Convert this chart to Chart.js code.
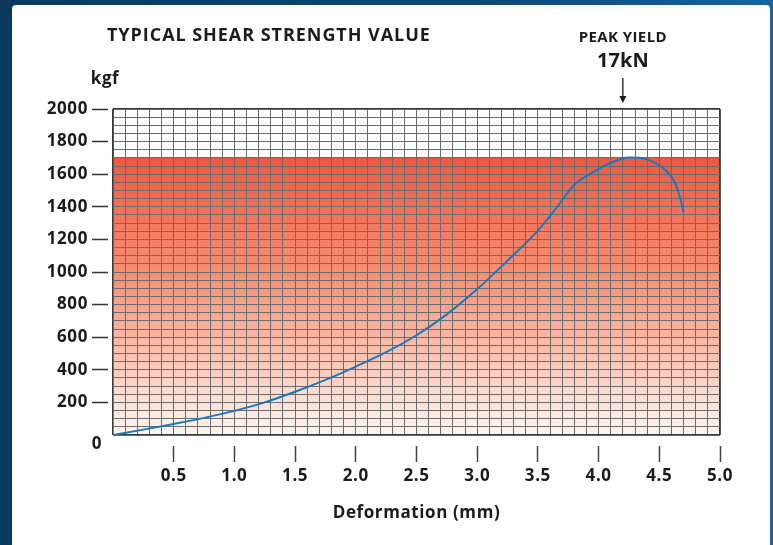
<!DOCTYPE html>
<html>
<head>
<meta charset="utf-8">
<script src="https://cdn.jsdelivr.net/npm/chart.js@4.4.1/dist/chart.umd.min.js"></script>
<style>
  html, body { margin: 0; padding: 0; }
  body {
    width: 773px; height: 545px; overflow: hidden;
    background: linear-gradient(90deg, #0b3a5e 0%, #0e4672 60%, #1564a0 100%);
    position: relative;
  }
  #panel {
    position: absolute; left: 12px; top: 5px; width: 758px; height: 540px;
    background: #fff; border-radius: 4px 4px 0 0; overflow: hidden;
  }
</style>
</head>
<body>
<div id="panel"><canvas id="shearChart" width="758" height="540"></canvas></div>
<script>
// valores (deformação em mm, força em kgf)
const deformation = [0, 0.25, 0.5, 0.75, 1.0, 1.25, 1.5, 1.75, 2.0, 2.25, 2.5, 2.75, 3.0, 3.25, 3.5,
                     3.65, 3.8, 3.95, 4.1, 4.25, 4.35, 4.45, 4.55, 4.62, 4.67, 4.7];
const shearForce = [0, 33, 68, 105, 148, 200, 265, 338, 420, 508, 612, 740, 895, 1070, 1254,
                    1390, 1535, 1610, 1670, 1703, 1700, 1675, 1625, 1560, 1460, 1366];

// faixa vermelha (zona de trabalho) e limites dos eixos
const bandTop = 1700;
const bandX = [0, 5];
const xTickLabels = [0.5, 1.0, 1.5, 2.0, 2.5, 3.0, 3.5, 4.0, 4.5, 5.0];
const yTickLabels = [200, 400, 600, 800, 1000, 1200, 1400, 1600, 1800, 2000];

// textos
const chartTitle = 'TYPICAL SHEAR STRENGTH VALUE';
const yUnit = 'kgf';
const xTitle = 'Deformation (mm)';
const peakLabel = 'PEAK YIELD';
const peakValue = '17kN';
const peakAt = 4.2;

const FONT = '"Open Sans", Lato, sans-serif';
const TEXT = '#1b1b1b';
const GRID = '#6c6c6c';
const EDGE = '#3a3a3a';

const curvePoints = deformation.map((x, i) => ({ x: x, y: shearForce[i] }));
const bandPoints = bandX.map(x => ({ x: x, y: bandTop }));

// espaçamento de letras um pouco maior, como no original
const spacing = {
    id: 'spacing',
    beforeDraw(chart) { chart.ctx.letterSpacing = '0.6px'; }
};

// redesenha a grade por cima da faixa, mas por baixo da curva
const gridOverBand = {
    id: 'gridOverBand',
    afterDatasetDraw(chart, args) {
        if (args.index !== 1) return;
        chart.scales.x.drawGrid(chart.chartArea);
        chart.scales.y.drawGrid(chart.chartArea);
    }
};

// textos soltos: título, unidade, pico e o "0"
const annotations = {
    id: 'annotations',
    afterDraw(chart) {
        const ctx = chart.ctx;
        const area = chart.chartArea;
        const xs = chart.scales.x;
        const ys = chart.scales.y;
        ctx.save();
        ctx.fillStyle = TEXT;
        ctx.textBaseline = 'middle';

        ctx.font = 'bold 18px ' + FONT;
        ctx.letterSpacing = '0.95px';
        ctx.textAlign = 'left';
        ctx.fillText(chartTitle, 95, 31);

        ctx.font = 'bold 17px ' + FONT;
        ctx.letterSpacing = '0.6px';
        ctx.textAlign = 'center';
        ctx.fillText(yUnit, 93, 74);
        ctx.fillText('0', 85, ys.getPixelForValue(0) + 9);

        const px = xs.getPixelForValue(peakAt);
        ctx.font = 'bold 15px ' + FONT;
        ctx.letterSpacing = '0.4px';
        ctx.fillText(peakLabel, px, 33);
        ctx.font = 'bold 20px ' + FONT;
        ctx.letterSpacing = '0px';
        ctx.fillText(peakValue, px, 56);

        // seta
        ctx.strokeStyle = TEXT;
        ctx.lineWidth = 1.3;
        ctx.beginPath();
        ctx.moveTo(px, 73);
        ctx.lineTo(px, area.top - 10);
        ctx.stroke();
        ctx.beginPath();
        ctx.moveTo(px - 3.5, area.top - 13);
        ctx.lineTo(px + 3.5, area.top - 13);
        ctx.lineTo(px, area.top - 6);
        ctx.closePath();
        ctx.fill();
        ctx.restore();
    }
};

function edgeColor(ctx, lo, hi) {
    const v = ctx.tick.value;
    return (v === lo || v === hi) ? EDGE : GRID;
}

const chart = new Chart(document.getElementById('shearChart').getContext('2d'), {
    type: 'line',
    data: {
        datasets: [
            {
                label: 'curve',
                data: curvePoints,
                borderColor: '#1b78be',
                borderWidth: 2,
                pointRadius: 0,
                cubicInterpolationMode: 'monotone',
                fill: false,
                order: 1
            },
            {
                label: 'band',
                data: bandPoints,
                borderWidth: 0,
                pointRadius: 0,
                fill: 'origin',
                order: 2,
                backgroundColor: function(c) {
                    const ch = c.chart;
                    if (!ch.chartArea) return 'rgba(240,90,65,0.6)';
                    const ys = ch.scales.y;
                    const g = ch.ctx.createLinearGradient(0, ys.getPixelForValue(bandTop), 0, ys.getPixelForValue(0));
                    g.addColorStop(0, '#ef5840');
                    g.addColorStop(0.45, '#f69479');
                    g.addColorStop(1, '#fff6f1');
                    return g;
                }
            }
        ]
    },
    options: {
        responsive: false,
        animation: false,
        events: [],
        layout: { padding: { left: 6, right: 50, top: 104, bottom: 10 } },
        plugins: { legend: { display: false }, tooltip: { enabled: false } },
        scales: {
            x: {
                type: 'linear', position: 'bottom', min: 0, max: 5, weight: 0,
                ticks: { display: false, stepSize: 0.1, autoSkip: false },
                grid: {
                    drawTicks: false,
                    color: c => edgeColor(c, 0, 5),
                    lineWidth: c => (c.tick.value === 0 || c.tick.value === 5) ? 1.6 : 1
                },
                border: { display: false },
                afterFit: s => { s.height = 0; }
            },
            y: {
                type: 'linear', position: 'left', min: 0, max: 2000, weight: 0,
                ticks: { display: false, stepSize: 50, autoSkip: false },
                grid: {
                    drawTicks: false,
                    color: c => edgeColor(c, 0, 2000),
                    lineWidth: c => (c.tick.value === 0 || c.tick.value === 2000) ? 1.6 : 1
                },
                border: { display: false },
                afterFit: s => { s.width = 0; }
            },
            xl: {
                type: 'linear', position: 'bottom', min: 0, max: 5, weight: 1,
                afterBuildTicks: s => { s.ticks = [0].concat(xTickLabels).map(v => ({ value: v })); },
                ticks: {
                    autoSkip: false, maxRotation: 0, padding: 4, color: TEXT,
                    font: { family: FONT, size: 17, weight: 'bold' },
                    callback: v => v === 0 ? '' : v.toFixed(1)
                },
                grid: {
                    drawOnChartArea: false, drawTicks: true, tickLength: 27,
                    tickBorderDash: [0, 11, 16, 100], tickWidth: 1.5,
                    color: c => c.tick && c.tick.value === 0 ? 'rgba(0,0,0,0)' : '#444'
                },
                border: { display: false },
                title: {
                    display: true, text: xTitle, color: TEXT,
                    font: { family: FONT, size: 17, weight: 'bold' },
                    padding: { top: 0, bottom: 12 }
                },
                afterFit: s => { s.height = 100; }
            },
            yl: {
                type: 'linear', position: 'left', min: 0, max: 2000, weight: 1,
                afterBuildTicks: s => { s.ticks = [0].concat(yTickLabels).map(v => ({ value: v })); },
                ticks: {
                    autoSkip: false, padding: 4, color: TEXT,
                    font: { family: FONT, size: 17, weight: 'bold' },
                    callback: v => v === 0 ? '' : String(v)
                },
                grid: {
                    drawOnChartArea: false, drawTicks: true, tickLength: 21,
                    tickBorderDash: [16, 100], tickWidth: 1.5,
                    color: c => c.tick && c.tick.value === 0 ? 'rgba(0,0,0,0)' : '#333'
                },
                border: { display: false },
                afterFit: s => { s.width = 95; }
            }
        }
    },
    plugins: [spacing, gridOverBand, annotations]
});
</script>
</body>
</html>
